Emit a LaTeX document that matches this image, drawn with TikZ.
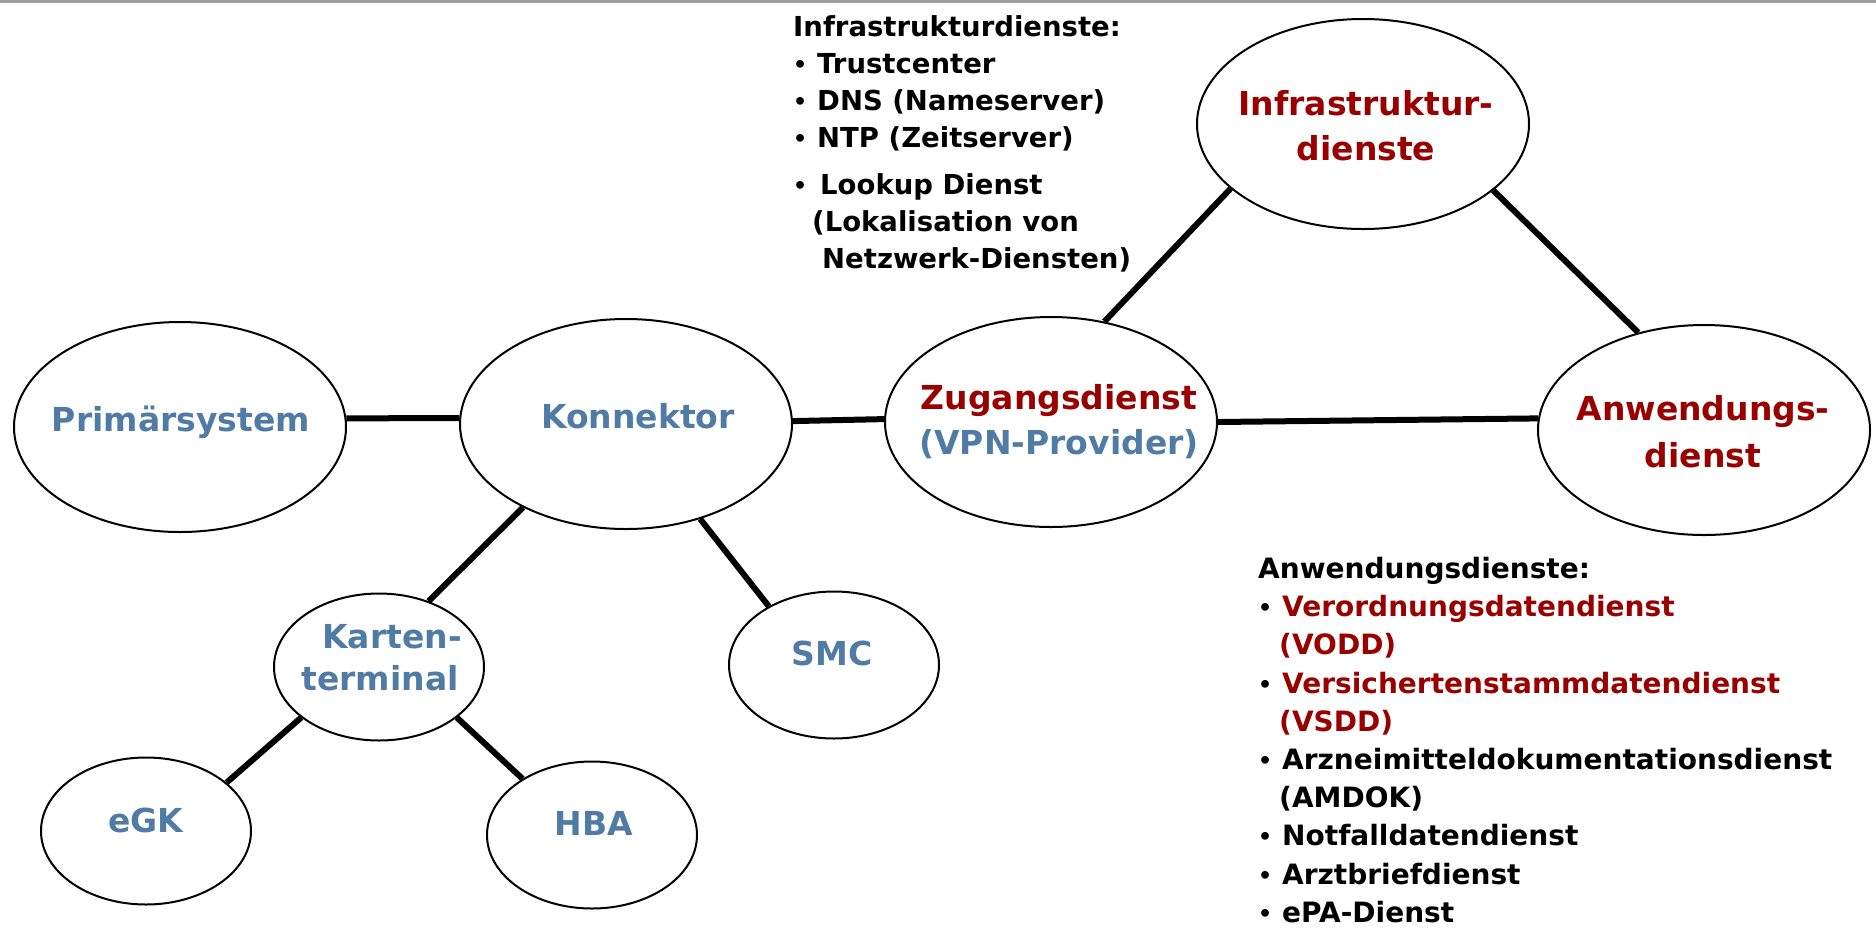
\documentclass[tikz,border=0pt]{standalone}
\usepackage{fontspec}
\setmainfont{DejaVu Sans}
\usetikzlibrary{shapes.geometric}
\definecolor{dienstblau}{RGB}{79,123,164}
\definecolor{dienstrot}{RGB}{153,0,0}
\newcommand{\punkt}{\makebox[24pt][l]{\raisebox{1pt}{\fontsize{22}{22}\selectfont •}}}

\begin{document}
\begin{tikzpicture}[x=1pt, y=-1pt,
		gross/.style={ellipse, draw, line width=2pt, inner sep=0pt, minimum width=332pt, minimum height=210pt},
		klein/.style={ellipse, draw, line width=2pt, inner sep=0pt, minimum width=210pt, minimum height=147pt},
		schrift/.style={inner sep=0pt, align=center, font=\fontsize{33}{45}\selectfont\bfseries},
		verbindung/.style={line width=6pt},
		liste/.style={anchor=north west, inner sep=0pt, align=left, font=\fontsize{27.5}{37}\selectfont\bfseries}]
			%%%%% START %%%%%
			
			\useasboundingbox (0, 0) rectangle (1876, 927);
			\fill[gray!75] (0, 0) rectangle (1876, 3);
			
			\node[gross] (prim) at (180, 427) {};
			\node[gross] (konn) at (626, 424) {};
			\node[gross] (zug) at (1051, 422) {};
			\node[gross] (infra) at (1363, 124) {};
			\node[gross] (anw) at (1704, 430) {};
			
			\node[klein] (kart) at (379, 667) {};
			\node[klein] (smc) at (834, 665) {};
			\node[klein] (egk) at (146, 831) {};
			\node[klein] (hba) at (592, 835) {};
			
			\node[schrift, anchor=base, text=dienstblau] (primtext) at (181, 431) {Primärsystem};
			\node[schrift, anchor=base, text=dienstblau] (konntext) at (638, 428) {Konnektor};
			\node[schrift, anchor=north] (zugtext) at (1059, 384) {\textcolor{dienstrot}{Zugangsdienst}\\\textcolor{dienstblau}{(VPN-Provider)}};
			\node[schrift, anchor=north, text=dienstrot] (infratext) at (1366, 90) {Infrastruktur-\\dienste};
			\node[schrift, anchor=north, text=dienstrot, font=\fontsize{33}{47}\selectfont\bfseries] (anwtext) at (1703, 395) {Anwendungs-\\dienst};
			\node[schrift, anchor=north, text=dienstblau, font=\fontsize{33}{42}\selectfont\bfseries] (karttext) at (380, 624) {\hspace*{24pt}Karten-\\terminal};
			\node[schrift, anchor=base, text=dienstblau] (smctext) at (832, 665) {SMC};
			\node[schrift, anchor=base, text=dienstblau] (egktext) at (146, 832) {eGK};
			\node[schrift, anchor=base, text=dienstblau] (hbatext) at (594, 835) {HBA};
			
			\draw[verbindung] (prim.3) -- (konn.178);
			\draw[verbindung] (konn.1.4) -- (zug.179.5);
			\draw[verbindung] (zug.0.7) -- (anw.176.5);
			\draw[verbindung] (zug.62) -- (infra.206);
			\draw[verbindung] (infra.333) -- (anw.124);
			
			\draw[verbindung] (konn.219) -- (kart.53);
			\draw[verbindung] (konn.308) -- (smc.138);
			\draw[verbindung] (kart.213) -- (egk.31);
			\draw[verbindung] (kart.327) -- (hba.141);
			
			\node[liste] (infraliste) at (793, 15) {Infrastrukturdienste:\\\punkt Trustcenter\\\punkt DNS (Nameserver)\\\punkt NTP (Zeitserver)\\[10pt]\punkt\hspace{3pt}Lookup Dienst\\\hspace*{19pt}(Lokalisation von\\\hspace*{29pt}Netzwerk-Diensten)};
			
			\node[liste, font=\fontsize{28}{38.2}\selectfont\bfseries] (anwliste) at (1258, 557) {Anwendungsdienste:\\\punkt\textcolor{dienstrot}{Verordnungsdatendienst}\\\hspace*{21pt}\textcolor{dienstrot}{(VODD)}\\\punkt\textcolor{dienstrot}{Versichertenstammdatendienst}\\\hspace*{21pt}\textcolor{dienstrot}{(VSDD)}\\\punkt Arzneimitteldokumentationsdienst\\\hspace*{21pt}(AMDOK)\\\punkt Notfalldatendienst\\\punkt Arztbriefdienst\\\punkt ePA-Dienst};
			
			%%%%% END %%%%%
\end{tikzpicture}
\end{document}
